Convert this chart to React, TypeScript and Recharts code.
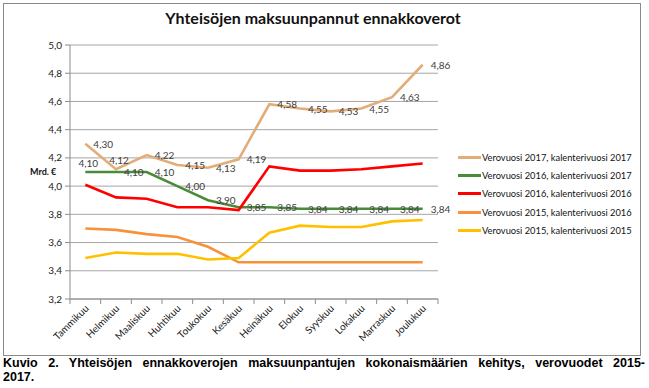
import { CartesianGrid, LabelList, Line, LineChart, XAxis, YAxis } from "recharts";

const months = [
  "Tammikuu", "Helmikuu", "Maaliskuu", "Huhtikuu", "Toukokuu", "Kesäkuu",
  "Heinäkuu", "Elokuu", "Syyskuu", "Lokakuu", "Marraskuu", "Joulukuu",
];
const vv2017kv2017 = [4.30, 4.12, 4.22, 4.15, 4.13, 4.19, 4.58, 4.55, 4.53, 4.55, 4.63, 4.86];
const vv2016kv2017 = [4.10, 4.10, 4.10, 4.00, 3.90, 3.85, 3.85, 3.84, 3.84, 3.84, 3.84, 3.84];
const vv2016kv2016 = [4.01, 3.92, 3.91, 3.85, 3.85, 3.83, 4.14, 4.11, 4.11, 4.12, 4.14, 4.16];
const vv2015kv2016 = [3.70, 3.69, 3.66, 3.64, 3.57, 3.46, 3.46, 3.46, 3.46, 3.46, 3.46, 3.46];
const vv2015kv2015 = [3.49, 3.53, 3.52, 3.52, 3.48, 3.49, 3.67, 3.72, 3.71, 3.71, 3.75, 3.76];
const yTicks = [3.2, 3.4, 3.6, 3.8, 4.0, 4.2, 4.4, 4.6, 4.8, 5.0];

const series = [
  { key: "a", name: "Verovuosi 2017, kalenterivuosi 2017", values: vv2017kv2017, color: "#E3AD79", labels: true },
  { key: "b", name: "Verovuosi 2016, kalenterivuosi 2017", values: vv2016kv2017, color: "#4A8B3B", labels: true },
  { key: "c", name: "Verovuosi 2016, kalenterivuosi 2016", values: vv2016kv2016, color: "#FF0000", labels: false },
  { key: "d", name: "Verovuosi 2015, kalenterivuosi 2016", values: vv2015kv2016, color: "#F7923A", labels: false },
  { key: "e", name: "Verovuosi 2015, kalenterivuosi 2015", values: vv2015kv2015, color: "#FFC000", labels: false },
];

const data = months.map((m, i) => {
  const row: Record<string, string | number> = { month: m };
  series.forEach((s) => (row[s.key] = s.values[i]));
  return row;
});

const FONT = "Lato, 'Open Sans', sans-serif";
const PLOT_LEFT = 70;
const PLOT_RIGHT = 438;
const BAND = (PLOT_RIGHT - PLOT_LEFT) / months.length;

// labels that sit above the point instead of to the right
const aboveLabels: Record<string, number[]> = { a: [1], b: [0] };

const fmt = (v: number, d: number) => v.toFixed(d).replace(".", ",");

const makeLabel = (key: string) => (props: any) => {
  const { x, y, value, index } = props;
  if ((aboveLabels[key] || []).includes(index)) {
    return (
      <text x={x + 3} y={y - 5} textAnchor="middle" fontSize={10} fontFamily={FONT} fill="#404040">
        {fmt(value, 2)}
      </text>
    );
  }
  return (
    <text x={x + 8} y={y + 4} textAnchor="start" fontSize={10} fontFamily={FONT} fill="#404040">
      {fmt(value, 2)}
    </text>
  );
};

const MonthTick = (props: any) => {
  const { x, y, payload, index } = props;
  return (
    <g>
      <line x1={x + BAND / 2} x2={x + BAND / 2} y1={y} y2={y + 5} stroke="#8C8C8C" />
      {index === 0 && <line x1={x - BAND / 2} x2={x - BAND / 2} y1={y} y2={y + 5} stroke="#8C8C8C" />}
      <text
        transform={`translate(${x + 4},${y + 10}) rotate(-45)`}
        textAnchor="end"
        fontSize={10}
        fontFamily={FONT}
        fill="#222"
      >
        {payload.value}
      </text>
    </g>
  );
};

export default function App() {
  return (
    <div style={{ position: "absolute", left: 0, top: 0, width: 649, height: 388, background: "#fff", fontFamily: FONT }}>
      <div
        style={{
          position: "absolute", left: 3, top: 3, width: 638, height: 353,
          boxSizing: "border-box", border: "1px solid #8A8A8A",
        }}
      />
      <div
        style={{
          position: "absolute", left: 3, top: 8, width: 620, textAlign: "center",
          fontWeight: 700, fontSize: 16, color: "#111",
        }}
      >
        Yhteisöjen maksuunpannut ennakkoverot
      </div>
      <div style={{ position: "absolute", left: 30, top: 166, fontSize: 9, fontWeight: 700, color: "#111" }}>
        Mrd. €
      </div>
      <div style={{ position: "absolute", left: 0, top: 0 }}>
        <LineChart
          width={649}
          height={356}
          data={data}
          margin={{ top: 45, right: 649 - PLOT_RIGHT, bottom: 7, left: 10 }}
        >
          <CartesianGrid vertical={false} stroke="#A6A6A6" />
          <XAxis
            dataKey="month"
            interval={0}
            height={50}
            padding={{ left: BAND / 2, right: BAND / 2 }}
            tickLine={false}
            tickSize={0}
            tickMargin={0}
            stroke="#8C8C8C"
            tick={<MonthTick />}
          />
          <YAxis
            width={60}
            domain={[3.2, 5.0]}
            ticks={yTicks}
            tickFormatter={(v: number) => fmt(v, 1)}
            tickSize={5}
            tickMargin={3}
            stroke="#8C8C8C"
            tick={{ fontSize: 10, fontFamily: FONT, fill: "#222" }}
          />
          {series.map((s) => (
            <Line
              key={s.key}
              dataKey={s.key}
              name={s.name}
              stroke={s.color}
              strokeWidth={2.6}
              dot={false}
              isAnimationActive={false}
            >
              {s.labels && <LabelList dataKey={s.key} content={makeLabel(s.key)} />}
            </Line>
          ))}
        </LineChart>
      </div>
      <div style={{ position: "absolute", left: 458, top: 148 }}>
        {series.map((s) => (
          <div key={s.key} style={{ display: "flex", alignItems: "center", height: 18.3 }}>
            <div style={{ width: 23, height: 3, background: s.color }} />
            <span style={{ fontSize: 9.3, color: "#111", marginLeft: 1, whiteSpace: "nowrap" }}>{s.name}</span>
          </div>
        ))}
      </div>
      <div
        style={{
          position: "absolute", left: 3, top: 356, width: 642,
          fontFamily: "'Liberation Sans', Arial, sans-serif", fontWeight: 700, fontSize: 12.5, lineHeight: "14px", color: "#000",
        }}
      >
        <div style={{ textAlign: "justify", textAlignLast: "justify" }}>
          Kuvio 2. Yhteisöjen ennakkoverojen maksuunpantujen kokonaismäärien kehitys, verovuodet 2015-
        </div>
        <div>2017.</div>
      </div>
    </div>
  );
}
